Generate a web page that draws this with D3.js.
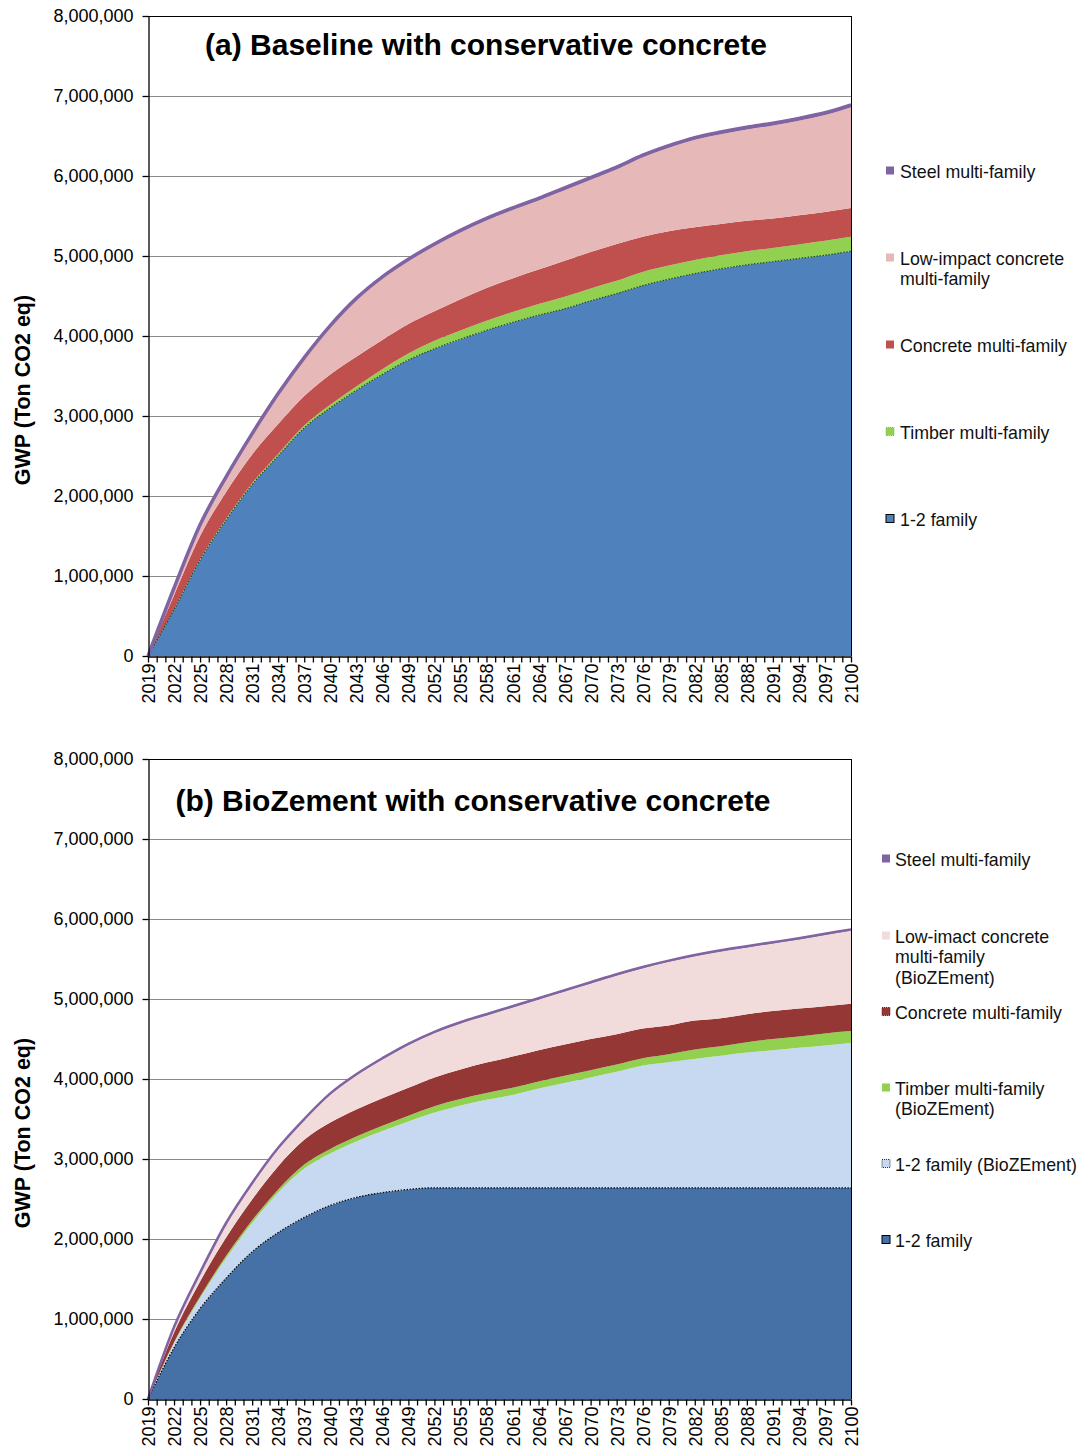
<!DOCTYPE html>
<html><head><meta charset="utf-8">
<script src="https://cdn.jsdelivr.net/npm/d3@7"></script>
<style>body{margin:0;background:#fff} svg{display:block} text{font-family:"Liberation Sans",Arial,Helvetica,sans-serif}</style>
</head><body>
<svg id="c" width="1083" height="1452"></svg>
<script>
// ---- shared categories / ticks ----
const years = [2019,2022,2025,2028,2031,2034,2037,2040,2043,2046,2049,2052,2055,2058,2061,2064,2067,2070,2073,2076,2079,2082,2085,2088,2091,2094,2097,2100];
const yearLabels = [2019,2022,2025,2028,2031,2034,2037,2040,2043,2046,2049,2052,2055,2058,2061,2064,2067,2070,2073,2076,2079,2082,2085,2088,2091,2094,2097,2100];
const yTicks = [0,1000000,2000000,3000000,4000000,5000000,6000000,7000000,8000000];
const yTitle = "GWP (Ton CO2 eq)";

// ---- panel (a): Baseline ----
const aTitle = "(a) Baseline with conservative concrete";
const aOneTwo   = [0,580000,1200000,1700000,2140000,2500000,2850000,3100000,3320000,3520000,3700000,3840000,3960000,4070000,4170000,4260000,4340000,4440000,4530000,4630000,4710000,4780000,4840000,4890000,4930000,4970000,5010000,5060000];
const aTimber   = [0,5000,10000,15000,20000,25000,30000,40000,50000,65000,80000,100000,110000,120000,130000,140000,150000,155000,160000,170000,170000,170000,170000,170000,170000,175000,180000,180000];
const aConcrete = [0,175000,290000,335000,360000,375000,370000,380000,370000,365000,370000,370000,390000,410000,420000,430000,450000,455000,460000,440000,430000,410000,390000,380000,370000,365000,360000,360000];
const aLowImpact= [0,80000,125000,170000,240000,360000,460000,590000,708000,768000,788000,816000,836000,846000,855000,865000,885000,904000,934000,994000,1043000,1093000,1123000,1142000,1162000,1182000,1211000,1260000];
const aSteel    = [0,10000,15000,20000,20000,20000,20000,20000,22000,22000,22000,24000,24000,24000,25000,25000,25000,26000,26000,26000,27000,27000,27000,28000,28000,28000,29000,30000];
const aNames = ["1-2 family","Timber multi-family","Concrete multi-family","Low-impact concrete|multi-family","Steel multi-family"];
const aColors = ["#4F81BD","#92D050","#C0504D","#E6B9B8","#8064A2"];

// ---- panel (b): BioZement ----
const bTitle = "(b) BioZement with conservative concrete";
const bOneTwo    = [0,640000,1130000,1510000,1840000,2080000,2270000,2420000,2520000,2580000,2620000,2640000,2640000,2640000,2640000,2640000,2640000,2640000,2640000,2640000,2640000,2640000,2640000,2640000,2640000,2640000,2640000,2640000];
const bOneTwoBio = [0,60000,130000,250000,360000,500000,610000,650000,700000,770000,850000,940000,1030000,1100000,1160000,1240000,1310000,1380000,1450000,1530000,1570000,1610000,1650000,1690000,1720000,1750000,1780000,1810000];
const bTimber    = [0,10000,20000,30000,35000,40000,50000,55000,60000,65000,70000,80000,80000,85000,90000,90000,90000,90000,90000,90000,100000,120000,120000,130000,140000,140000,150000,150000];
const bConcrete  = [0,120000,190000,230000,260000,290000,310000,330000,340000,345000,350000,360000,370000,380000,390000,390000,390000,390000,380000,370000,360000,360000,350000,350000,350000,350000,340000,340000];
const bLowImpact = [0,60000,95000,165000,190000,215000,245000,350000,425000,485000,535000,555000,575000,590000,615000,635000,665000,695000,735000,755000,795000,805000,835000,835000,845000,865000,890000,915000];
const bSteel     = [0,10000,15000,15000,15000,15000,15000,15000,15000,15000,15000,15000,15000,15000,15000,15000,15000,15000,15000,15000,15000,15000,15000,15000,15000,15000,15000,15000];
const bNames = ["1-2 family","1-2 family (BioZEment)","Timber multi-family|(BioZEment)","Concrete multi-family","Low-imact concrete|multi-family|(BioZEment)","Steel multi-family"];
const bColors = ["#4571A6","#C6D9F0","#92D050","#953735","#F2DCDB","#8064A2"];

const svg = d3.select("#c");
const X0 = 148, X1 = 851;

function panel(cfg){
  const g = svg.append("g");
  const x = d3.scaleLinear().domain([2019,2100]).range([X0,X1]);
  const y = d3.scaleLinear().domain([0,8000000]).range([cfg.bottom,cfg.top]);

  // gridlines
  g.append("g").selectAll("line").data(yTicks.slice(1,-1)).join("line")
    .attr("x1",X0).attr("x2",X1).attr("y1",d=>y(d)+0.5).attr("y2",d=>y(d)+0.5)
    .attr("stroke","#8a8a8a").attr("stroke-width",1.2);

  // stacked areas
  const keys = cfg.series.map((s,i)=>"k"+i);
  const rows = years.map((yr,i)=>{const o={year:yr}; cfg.series.forEach((s,j)=>o["k"+j]=s[i]); return o;});
  const layers = d3.stack().keys(keys)(rows);
  const area = d3.area().curve(d3.curveMonotoneX).x(d=>x(d.data.year)).y0(d=>y(d[0])).y1(d=>y(d[1]));
  g.append("g").selectAll("path").data(layers).join("path")
    .attr("d",area).attr("fill",(d,i)=>cfg.colors[i]);

  const line = d3.line().curve(d3.curveMonotoneX).x(d=>x(d.data.year)).y(d=>y(d[1]));
  // dotted edge on 1-2 family
  g.append("path").attr("d",line(layers[0])).attr("fill","none")
    .attr("stroke",cfg.dotColor).attr("stroke-width",1.2).attr("stroke-dasharray","1.5,1.5");
  // steel top line
  g.append("path").attr("d",line(layers[layers.length-1])).attr("fill","none")
    .attr("stroke","#8064A2").attr("stroke-width",cfg.topWidth).attr("stroke-linejoin","round");

  // frame
  g.append("line").attr("x1",X0).attr("x2",X1).attr("y1",cfg.top+0.5).attr("y2",cfg.top+0.5).attr("stroke","#000");
  g.append("line").attr("x1",X1+0.5).attr("x2",X1+0.5).attr("y1",cfg.top).attr("y2",cfg.bottom).attr("stroke","#000");

  // y axis
  const ya = g.append("g").attr("transform",`translate(${X0+0.5},0)`)
    .call(d3.axisLeft(y).tickValues(yTicks).tickFormat(d3.format(",")).tickSize(6).tickSizeOuter(0).tickPadding(9));
  ya.selectAll("text").attr("font-size",18).attr("fill","#000").style("font-family",'"Liberation Sans",Arial,sans-serif');
  ya.selectAll("line,path").attr("stroke","#000").attr("stroke-width",1.3);

  // x axis
  const allYears = d3.range(2019,2101);
  const xa = g.append("g").attr("transform",`translate(0,${cfg.bottom+0.5})`)
    .call(d3.axisBottom(x).tickValues(allYears).tickSize(6).tickSizeOuter(0)
      .tickFormat(d=>yearLabels.includes(d)?String(d):""));
  xa.selectAll("line,path").attr("stroke","#000").attr("stroke-width",1.3);
  xa.selectAll("text").attr("transform","rotate(-90)").attr("text-anchor","end")
    .attr("x",-7).attr("y",0).attr("dy","0.36em").attr("font-size",18).attr("fill","#000")
    .style("font-family",'"Liberation Sans",Arial,sans-serif');

  // title
  g.append("text").attr("x",cfg.titleX).attr("y",cfg.titleY).attr("text-anchor","middle")
    .attr("font-size",30).attr("font-weight","bold").text(cfg.title);

  // y-axis title
  g.append("text").attr("transform",`translate(30,${(cfg.top+cfg.bottom)/2+54}) rotate(-90)`)
    .attr("text-anchor","middle").attr("font-size",21.5).attr("font-weight","bold").text(yTitle);

  // legend
  cfg.legend.forEach(it=>{
    const lg = g.append("g");
    lg.append("rect").attr("x",it.sx).attr("y",it.y-4.5).attr("width",8).attr("height",8)
      .attr("fill",cfg.colors[it.i]).attr("stroke",it.stroke||"none").attr("stroke-width",1)
      .attr("stroke-dasharray",it.dash||null);
    const lines = cfg.names[it.i].split("|");
    lines.forEach((t,k)=>{
      lg.append("text").attr("x",it.tx).attr("y",it.y+6.5+k*20.5).attr("font-size",17.8).attr("fill","#111").text(t);
    });
  });
}

panel({top:16,bottom:656,series:[aOneTwo,aTimber,aConcrete,aLowImpact,aSteel],colors:aColors,names:aNames,
  title:aTitle,titleX:486,titleY:55,topWidth:3.5,dotColor:"#1e4d1e",
  legend:[
    {i:4,y:171,sx:886,tx:900},
    {i:3,y:258,sx:886,tx:900},
    {i:2,y:345,sx:886,tx:900},
    {i:1,y:432,sx:886,tx:900,stroke:"#7fbf3f",dash:"1,1"},
    {i:0,y:519,sx:886,tx:900,stroke:"#000"}
  ]});

panel({top:759,bottom:1399,series:[bOneTwo,bOneTwoBio,bTimber,bConcrete,bLowImpact,bSteel],colors:bColors,names:bNames,
  title:bTitle,titleX:473,titleY:811,topWidth:2.5,dotColor:"#000",
  legend:[
    {i:5,y:859,sx:882,tx:895},
    {i:4,y:936,sx:882,tx:895},
    {i:3,y:1012,sx:882,tx:895,stroke:"#6b1f1f",dash:"1,1"},
    {i:2,y:1088,sx:882,tx:895},
    {i:1,y:1164,sx:882,tx:895,stroke:"#333",dash:"1,1"},
    {i:0,y:1240,sx:882,tx:895,stroke:"#000"}
  ]});
</script>
</body></html>
